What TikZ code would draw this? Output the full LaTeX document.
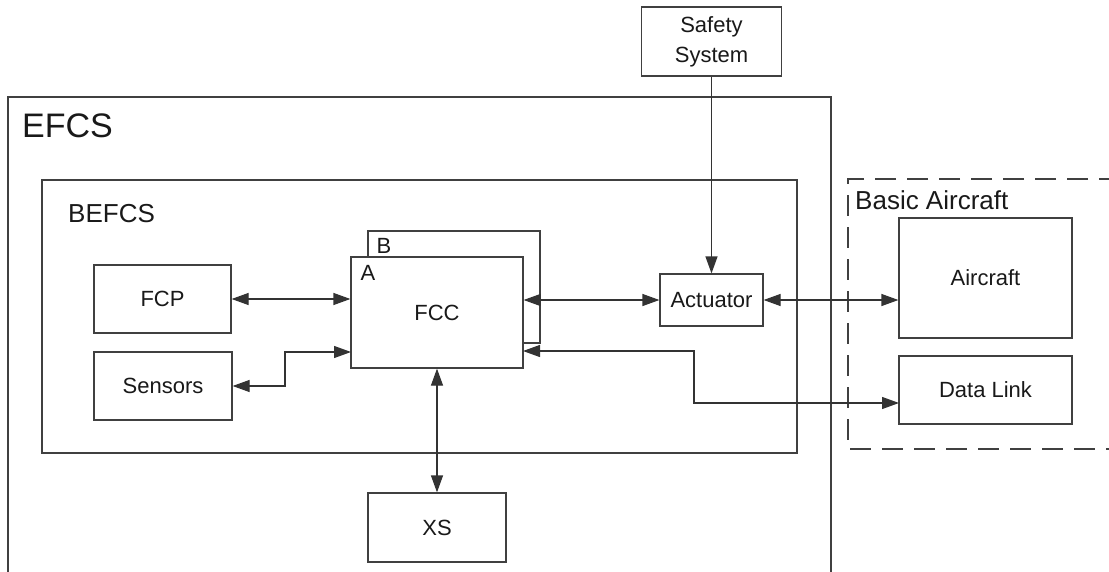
\documentclass[tikz,border=0pt]{standalone}
\usepackage{fontspec}
\setmainfont{Liberation Sans}
\usepackage{tikz}
\usetikzlibrary{arrows.meta,positioning,calc}

\begin{document}
\begin{tikzpicture}[
  x=1pt, y=-1pt,
  every node/.style={font=\fontsize{22}{30}\selectfont, text=black!90},
  blk/.style={draw=black!75, line width=1.2pt, fill=white, inner sep=0pt, align=center},
  frame/.style={draw=black!75, line width=1.2pt},
  grouplbl/.style={anchor=base west, inner sep=0pt},
  link/.style={draw=black!80, line width=1.2pt},
  >={Triangle[length=17pt,width=12pt]},
]
\useasboundingbox (0,0) rectangle (1109,571);
\draw[frame] (8,97) rectangle (831,580);
\node[grouplbl, font=\fontsize{34}{40}\selectfont] (efcs) at (22,137) {EFCS};
\draw[frame] (42,180) rectangle (797,453);
\node[grouplbl, font=\fontsize{26}{30}\selectfont] (befcs) at (68,222) {BEFCS};
\draw[frame, dash pattern=on 21pt off 11pt] (1120,179) -- (848,179) -- (848,449) -- (1120,449);
\node[grouplbl, font=\fontsize{26}{30}\selectfont] (basic) at (855,209) {Basic Aircraft};

\node[blk, minimum width=140pt, minimum height=69pt] (safety) at (711.5,41.5) {Safety\\System};
\node[blk, minimum width=137pt, minimum height=68pt] (fcp) at (162.5,299) {FCP};
\node[blk, minimum width=138pt, minimum height=68pt] (sensors) at (163,386) {Sensors};
\node[blk, minimum width=172pt, minimum height=112pt] (fccb) at (454,287) {};
\node[grouplbl] (lblb) at ($(fccb.north west)+(9,23)$) {B};
\node[blk, minimum width=172pt, minimum height=111pt] (fcca) at (437,312.5) {FCC};
\node[grouplbl] (lbla) at ($(fcca.north west)+(10,24)$) {A};
\node[blk, minimum width=103pt, minimum height=52pt] (act) at (711.5,300) {Actuator};
\node[blk, minimum width=173pt, minimum height=120pt] (aircraft) at (985.5,278) {Aircraft};
\node[blk, minimum width=173pt, minimum height=68pt] (datalink) at (985.5,390) {Data Link};
\node[blk, minimum width=138pt, minimum height=69pt] (xs) at (437,527.5) {XS};

\coordinate (snsin) at (351,352);
\coordinate (fccd) at (523,351);
\coordinate (dlin) at (899,403);

\draw[link, ->] (safety.south) -- (act.north);
\draw[link, <->] (fcp.east) -- (fcp.east -| fcca.west);
\draw[link, <->] (sensors.east) -- (285,386) |- (snsin);
\draw[link, <->] (fcca.east |- act.west) -- (act.west);
\draw[link, <->] (act.east) -- (act.east -| aircraft.west);
\draw[link, <->] (fccd) -| (694,403) -- (dlin);
\draw[link, <->] (fcca.south) -- (xs.north);
\end{tikzpicture}
\end{document}
